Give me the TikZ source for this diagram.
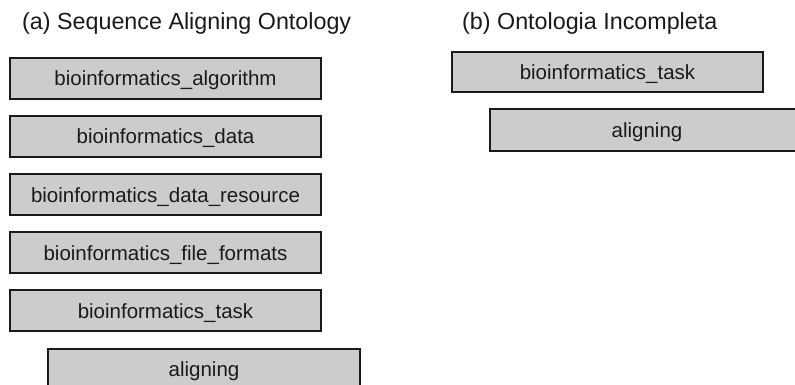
\documentclass[tikz,border=0pt]{standalone}
\usepackage{fontspec}
\setmainfont{Liberation Sans}
\definecolor{boxfill}{HTML}{CCCCCC}
\definecolor{ink}{HTML}{1A1A1A}
\begin{document}
\begin{tikzpicture}[x=1pt,y=-1pt,
  concept/.style={rectangle, draw=ink, fill=boxfill, line width=2pt,
    minimum width=311pt, minimum height=41pt, inner sep=0pt,
    text height=15pt, text depth=0pt,
    text=ink, font=\fontsize{20.5}{24}\selectfont},
  caption/.style={anchor=base west, inner sep=0pt, text=ink,
    font=\fontsize{23.3}{27}\selectfont}]
\useasboundingbox (0,0) rectangle (795,385);
\clip (0,0) rectangle (795,385);
\fill[white] (0,0) rectangle (795,385);

% (a) full ontology
\node[caption] (titleA) at (22,30) {(a) Sequence Aligning Ontology};
\node[concept] (algo)  at (165.5,78.5)  {bioinformatics\_algorithm};
\node[concept] (data)  at (165.5,136.5) {bioinformatics\_data};
\node[concept] (res)   at (165.5,194.5) {bioinformatics\_data\_resource};
\node[concept] (fmt)   at (165.5,252.5) {bioinformatics\_file\_formats};
\node[concept] (task)  at (165.5,310.5) {bioinformatics\_task};
\node[concept, minimum width=312pt] (align) at (204,369) {aligning};

% (b) incomplete ontology
\node[caption] (titleB) at (462,30) {(b) Ontologia Incompleta};
\node[concept, minimum height=40pt] (taskB)  at (607.5,72) {bioinformatics\_task};
\node[concept, minimum width=314pt, minimum height=42pt] (alignB) at (647,130) {aligning};
\end{tikzpicture}
\end{document}
